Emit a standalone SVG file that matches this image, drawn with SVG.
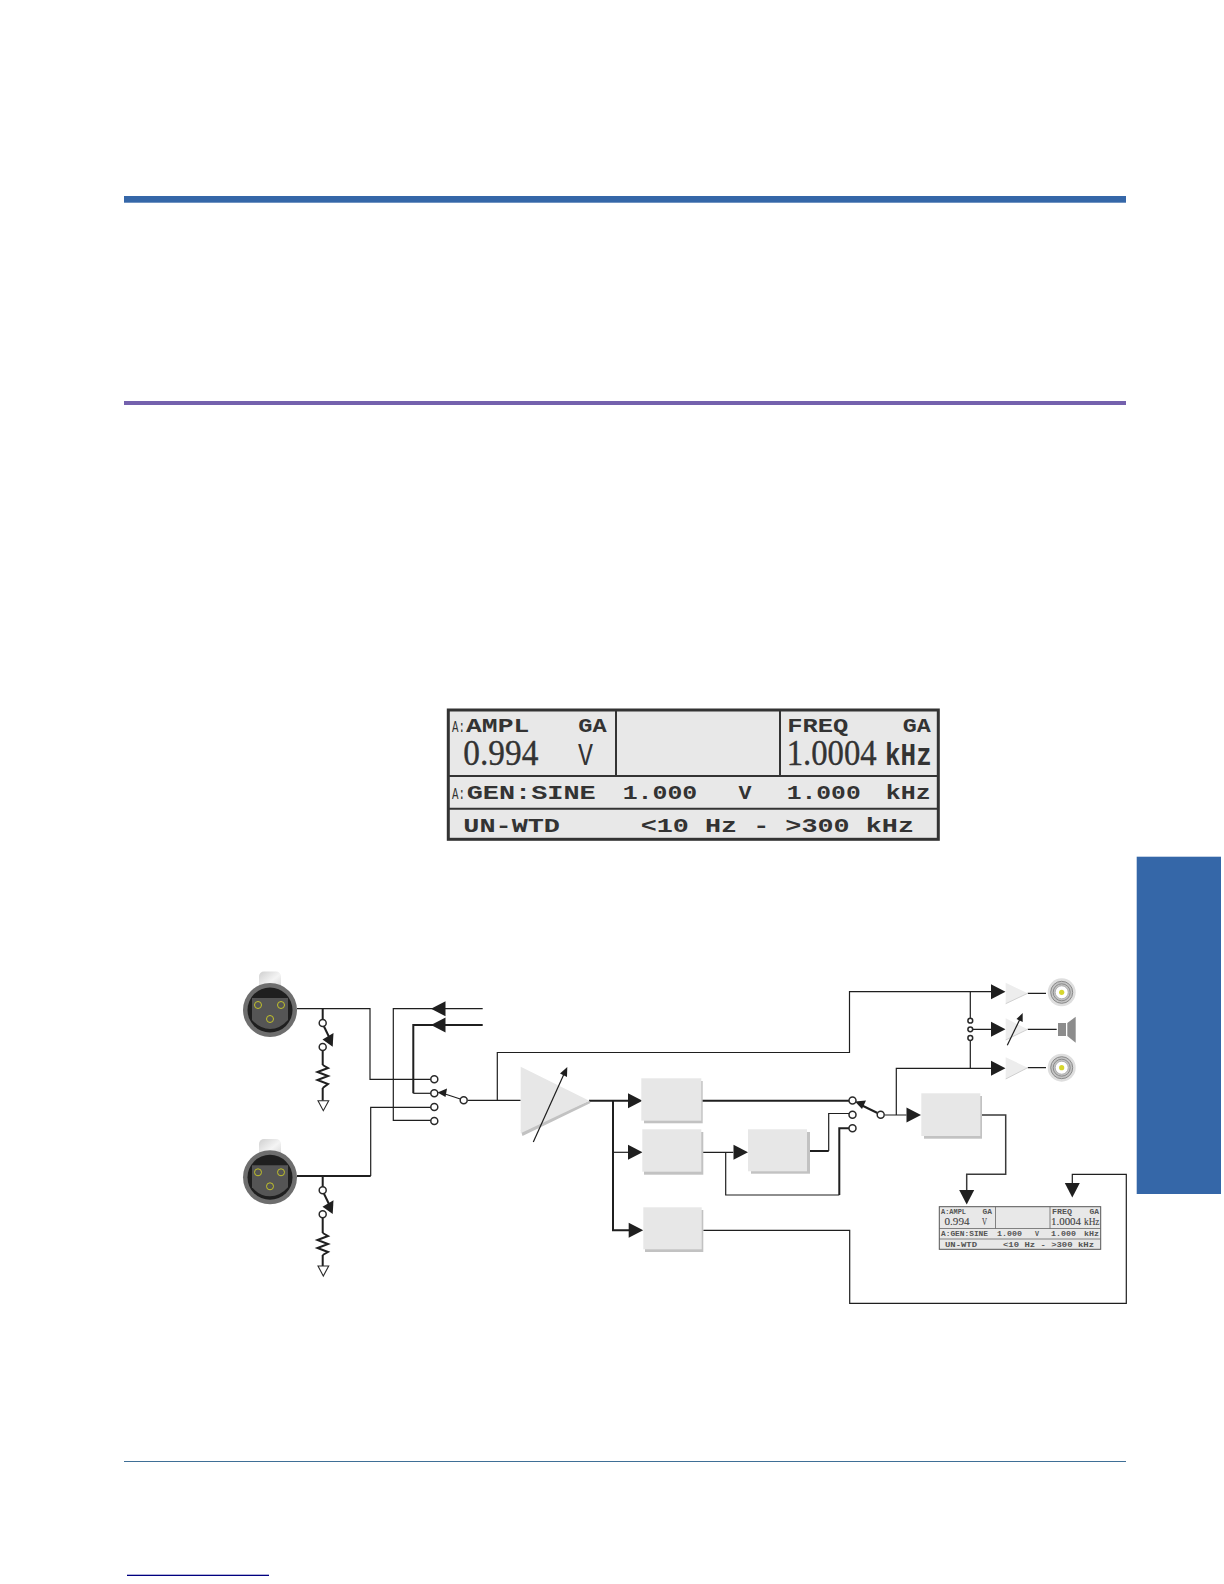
<svg xmlns="http://www.w3.org/2000/svg" width="1224" height="1584" viewBox="0 0 1224 1584">
<style>
.w{fill:none;stroke:#1f1f1f;stroke-width:1.2}
.t{fill:none;stroke:#1f1f1f;stroke-width:2}
.a{fill:#1f1f1f;stroke:none}
.c{fill:#fff;stroke:#2a2a2a;stroke-width:1.5}
.box{fill:#e7e7e7}
.sh{fill:#c2c2c2}
.lcd{font-family:"Liberation Mono",monospace;font-weight:700;fill:#333}
.thin{font-weight:400}
.big{font-family:"Liberation Serif",serif;fill:#333;stroke:#333;stroke-width:.35}
.mini .lcd{fill:#555}
.mini .big{stroke-width:.1;fill:#444}
.div{fill:none;stroke:#333;stroke-width:2}
</style>
<defs>
<linearGradient id="tab" x1="0" y1="0" x2="1" y2="1"><stop offset="0" stop-color="#cfcfcf"/><stop offset=".55" stop-color="#f4f4f4"/><stop offset="1" stop-color="#d4d4d4"/></linearGradient>
<g id="xlr">
<circle r="27" fill="#6e6e6e"/>
<circle r="22.5" fill="#1f1f1f"/>
<path d="M-18,-12H18V10Q10,19 0,19Q-10,19 -18,10Z" fill="#555"/>
<g fill="none" stroke="#c2c22a" stroke-width="1"><circle cx="-12" cy="-5" r="3.5"/><circle cx="11" cy="-5" r="3.5"/><circle cx="0" cy="9" r="3.5"/></g>
</g>
<g id="bnc">
<circle r="14" fill="#dedede"/>
<circle r="11" fill="#c4c4c4" stroke="#8a8a8a" stroke-width="1"/>
<circle r="8.5" fill="none" stroke="#8a8a8a" stroke-width="1"/>
<circle r="6.5" fill="#fff" stroke="#a5a5a5" stroke-width="0.8"/>
<circle r="2.6" fill="#d6d62e"/>
</g>
<path id="ar" d="M0,-7.5L14.5,0L0,7.5Z" class="a"/>
</defs>

<rect id="rule-top" x="124" y="196" width="1002" height="6.7" fill="#3567a8"/>
<rect id="rule-mid" x="124" y="401" width="1002" height="4" fill="#7461ad"/>
<rect id="rule-bottom" x="124" y="1461" width="1002" height="1" fill="#3f6f96"/>
<rect id="side-tab" x="1136.7" y="856.7" width="84.3" height="337.3" fill="#3567a8"/>
<rect id="link-underline" x="127" y="1574.7" width="142" height="1.3" fill="#000080"/>

<g id="lcd-main">
<rect x="448.3" y="710" width="490" height="129.3" fill="#e8e8e8" stroke="#333" stroke-width="3"/>
<path class="div" d="M448,776H938M448,808.7H938M616,710V776M780,710V776"/>
<text class="lcd thin" x="452" y="731.7" font-size="16" textLength="13" lengthAdjust="spacingAndGlyphs">A:</text>
<text class="lcd" x="466" y="731.7" font-size="20" textLength="63.3" lengthAdjust="spacingAndGlyphs">AMPL</text>
<text class="lcd" x="578.3" y="731.7" font-size="20" textLength="28.4" lengthAdjust="spacingAndGlyphs">GA</text>
<text class="big" x="463.3" y="765" font-size="35" textLength="75" lengthAdjust="spacingAndGlyphs">0.994</text>
<text class="lcd thin" x="578" y="765" font-size="32" textLength="15" lengthAdjust="spacingAndGlyphs">V</text>
<text class="lcd" x="787.3" y="731.7" font-size="20" textLength="61" lengthAdjust="spacingAndGlyphs">FREQ</text>
<text class="lcd" x="902.7" y="731.7" font-size="20" textLength="28" lengthAdjust="spacingAndGlyphs">GA</text>
<text class="big" x="786.7" y="765" font-size="35" textLength="90" lengthAdjust="spacingAndGlyphs">1.0004</text>
<text class="lcd" x="885" y="765" font-size="32" textLength="46.7" lengthAdjust="spacingAndGlyphs">kHz</text>
<text class="lcd thin" x="452" y="799.3" font-size="16" textLength="13" lengthAdjust="spacingAndGlyphs">A:</text>
<text class="lcd" x="466.7" y="799.3" font-size="20" textLength="129" lengthAdjust="spacingAndGlyphs">GEN:SINE</text>
<text class="lcd" x="622.7" y="799.3" font-size="20" textLength="74.6" lengthAdjust="spacingAndGlyphs">1.000</text>
<text class="lcd" x="738.5" y="799.3" font-size="20" textLength="13" lengthAdjust="spacingAndGlyphs">V</text>
<text class="lcd" x="786.7" y="799.3" font-size="20" textLength="74" lengthAdjust="spacingAndGlyphs">1.000</text>
<text class="lcd" x="885.7" y="799.3" font-size="20" textLength="45" lengthAdjust="spacingAndGlyphs">kHz</text>
<text class="lcd" x="463.3" y="831.7" font-size="20" textLength="96.7" lengthAdjust="spacingAndGlyphs">UN-WTD</text>
<text class="lcd" x="640.7" y="831.7" font-size="20" textLength="273.3" lengthAdjust="spacingAndGlyphs">&lt;10 Hz - &gt;300 kHz</text>
</g>

<g id="connectors">
<path class="w" d="M297,1008.7H370V1079.3H431"/>
<path class="t" d="M297,1176H370.7"/>
<path class="w" d="M370.7,1176V1107.3H431"/>
<path class="t" d="M322.7,1008.7V1020M322.7,1050V1065M322.7,1088V1100.7"/>
<path class="t" d="M322.7,1176V1187.5M322.7,1217.5V1233M322.7,1255V1266"/>
<path class="w" d="M482.7,1008.7H393.3V1120.3H431"/>
<path class="t" d="M482.7,1025H413.3V1093.3"/>
<path class="w" d="M413.3,1093.3H431"/>
<use href="#ar" transform="translate(445.5,1008.7) rotate(180)"/>
<use href="#ar" transform="translate(445.5,1025) rotate(180)"/>
<path class="w" d="M468,1100.3H520.7M497.3,1100.3V1052.5H849.5V991.7H991"/>
<path class="w" d="M460.3,1099L442,1093"/>
<path class="a" d="M437.5,1092.5L447,1088.5L445.5,1097Z"/>
<path class="t" d="M589,1100.7H628M613,1100.7V1230.3H629"/>
<path class="w" d="M613,1152.3H628"/>
<use href="#ar" transform="translate(628,1100.7)"/>
<use href="#ar" transform="translate(628,1152.3)"/>
<use href="#ar" transform="translate(628.7,1230.3)"/>
<path class="t" d="M702,1100.7H849"/>
<path class="w" d="M701.3,1152.3H733.3M725.7,1152.3V1195H839.3"/>
<use href="#ar" transform="translate(733.5,1152.3)"/>
<path class="t" d="M839.3,1195V1128.3H849"/>
<path class="t" d="M810,1151H828.7"/>
<path class="w" d="M828.7,1151V1113.5H849"/>
<path class="t" d="M877.5,1113L859,1104"/>
<path class="a" d="M855,1101.5L866,1100.5L862,1109Z"/>
<path class="w" d="M885,1115H906.5M896.3,1115V1068.3H991"/>
<use href="#ar" transform="translate(906.5,1115)"/>
<use href="#ar" transform="translate(991,991.7)"/>
<use href="#ar" transform="translate(991,1029.3)"/>
<use href="#ar" transform="translate(991,1068.3)"/>
<path class="w" d="M970.3,991.7V1018M970.3,1040.5V1068.3M973,1029.3H991"/>
<path class="w" d="M1027.7,993.3H1046M1027.7,1029.3H1056.7M1027.7,1067.7H1046"/>
<path d="M982,1115H1005.7V1174.3H966.7V1190" fill="none" stroke="#3a3a3a" stroke-width="1.5"/>
<use href="#ar" transform="translate(966.7,1190) rotate(90)"/>
<path class="w" d="M703.3,1230.3H849.7V1303.3H1126.3V1174.3H1072.3V1183"/>
<use href="#ar" transform="translate(1072.3,1183) rotate(90)"/>
<g>
<circle class="c" cx="434.3" cy="1079.3" r="3.5"/><circle class="c" cx="434.3" cy="1093.3" r="3.5"/><circle class="c" cx="434.3" cy="1107" r="3.5"/><circle class="c" cx="434.3" cy="1121" r="3.5"/><circle class="c" cx="463.7" cy="1100.3" r="3.5"/>
<circle class="c" cx="852.5" cy="1100.5" r="3.5"/><circle class="c" cx="852.5" cy="1114.8" r="3.5"/><circle class="c" cx="852.5" cy="1128.3" r="3.5"/><circle class="c" cx="880.7" cy="1114.7" r="3.5"/>
<circle class="c" cx="970.3" cy="1020.7" r="2.4" stroke-width="1.1"/><circle class="c" cx="970.3" cy="1029.3" r="2.4" stroke-width="1.1"/><circle class="c" cx="970.3" cy="1038" r="2.4" stroke-width="1.1"/>
</g>
</g>

<g id="xlr-1">
<rect x="259" y="971.5" width="22" height="18" rx="5" fill="url(#tab)"/>
<use href="#xlr" transform="translate(270,1010)"/>
</g>
<g id="xlr-2">
<rect x="259" y="1139" width="22" height="18" rx="5" fill="url(#tab)"/>
<use href="#xlr" transform="translate(270,1177.3)"/>
</g>

<g id="load-1">
<circle class="c" cx="322.7" cy="1023" r="3.5"/><circle class="c" cx="322.7" cy="1047" r="3.5"/>
<path class="t" d="M324,1026.5L331,1041"/>
<path class="a" d="M322.5,1039.5L333.5,1033L332.7,1046.7Z"/>
<path class="t" stroke-linejoin="miter" d="M322.7,1065L328,1068L317.5,1072L328,1076L317.5,1080L328,1084L322.7,1088"/>
<path d="M318,1100.7H328.7L323.3,1110.7Z" fill="#fff" stroke="#2a2a2a" stroke-width="1.1"/>
</g>
<g id="load-2">
<circle class="c" cx="322.7" cy="1190.3" r="3.5"/><circle class="c" cx="322.7" cy="1214.3" r="3.5"/>
<path class="t" d="M324,1193.8L331,1208.3"/>
<path class="a" d="M322.5,1206.8L333.5,1200.3L332.7,1214Z"/>
<path class="t" d="M322.7,1233L328,1236L317.5,1240L328,1244L317.5,1248L328,1252L322.7,1255"/>
<path d="M318,1266H328.7L323.3,1276Z" fill="#fff" stroke="#2a2a2a" stroke-width="1.1"/>
</g>

<g id="amp-main">
<path class="sh" d="M520.7,1130L589.3,1100.7L590.5,1103L522.5,1136Z"/>
<path class="box" d="M520.7,1066.7L589.3,1100.7L520.7,1133.3Z"/>
<path class="w" d="M533.3,1142L564,1074"/>
<path class="a" d="M567.3,1067L567,1077L560,1073.5Z"/>
</g>

<g id="block-1"><rect class="sh" x="644" y="1081" width="58.7" height="42.3"/><rect class="box" x="641.3" y="1078.3" width="60" height="42.4"/></g>
<g id="block-2"><rect class="sh" x="644" y="1132" width="59.3" height="42.7"/><rect class="box" x="642.3" y="1129.3" width="59" height="42.4"/></g>
<g id="block-3"><rect class="sh" x="751" y="1132" width="59" height="41.7"/><rect class="box" x="748" y="1129.3" width="59" height="42"/></g>
<g id="block-4"><rect class="sh" x="645" y="1210" width="58.3" height="42"/><rect class="box" x="643.3" y="1207.3" width="58.4" height="42"/></g>
<g id="block-5"><rect class="sh" x="924" y="1096" width="58" height="42.7"/><rect class="box" x="921.3" y="1093.3" width="59" height="42.7"/></g>

<g id="amp-out-1"><path d="M1005.7,982.7L1027.7,993.3L1005.7,1003.7Z" fill="#ededed"/><path d="M1005.7,1003.7L1027.7,993.3" stroke="#d0d0d0" fill="none"/></g>
<g id="amp-out-2"><path d="M1005.7,1018.3L1027.7,1029.3L1005.7,1040Z" fill="#ededed"/><path d="M1005.7,1040L1027.7,1029.3" stroke="#d0d0d0" fill="none"/>
<path class="w" d="M1007.3,1045.3L1020,1019"/><path class="a" d="M1022.7,1013L1022.7,1022L1016.5,1019Z"/></g>
<g id="amp-out-3"><path d="M1005.7,1057.3L1027.7,1067.7L1005.7,1079Z" fill="#ededed"/><path d="M1005.7,1079L1027.7,1067.7" stroke="#d0d0d0" fill="none"/></g>
<g id="bnc-1"><use href="#bnc" transform="translate(1061.7,992.3)"/></g>
<g id="bnc-2"><use href="#bnc" transform="translate(1061.7,1067.7)"/></g>
<g id="speaker"><rect x="1058" y="1023" width="8" height="13" fill="#8c8c8c"/><path d="M1067.3,1023L1075.7,1016.7V1042.7L1067.3,1036Z" fill="#8c8c8c"/></g>

<g id="lcd-mini" class="mini">
<rect x="939.3" y="1206.7" width="161.4" height="42.6" fill="#e8e8e8" stroke="#555" stroke-width="1"/>
<path d="M939.3,1228.5H1100.7M939.3,1239H1100.7M995.5,1206.7V1228.5M1050,1206.7V1228.5" fill="none" stroke="#666" stroke-width="0.8"/>
<g font-size="6.6">
<text class="lcd" x="941" y="1213.8" textLength="25" lengthAdjust="spacingAndGlyphs">A:AMPL</text>
<text class="lcd" x="982.5" y="1213.8" textLength="9.5" lengthAdjust="spacingAndGlyphs">GA</text>
<text class="lcd" x="1052" y="1213.8" textLength="20" lengthAdjust="spacingAndGlyphs">FREQ</text>
<text class="lcd" x="1089.5" y="1213.8" textLength="9.5" lengthAdjust="spacingAndGlyphs">GA</text>
<text class="lcd" x="941" y="1235.8" textLength="47" lengthAdjust="spacingAndGlyphs">A:GEN:SINE</text>
<text class="lcd" x="997" y="1235.8" textLength="25" lengthAdjust="spacingAndGlyphs">1.000</text>
<text class="lcd" x="1035" y="1235.8" textLength="4" lengthAdjust="spacingAndGlyphs">V</text>
<text class="lcd" x="1051" y="1235.8" textLength="25" lengthAdjust="spacingAndGlyphs">1.000</text>
<text class="lcd" x="1084" y="1235.8" textLength="15" lengthAdjust="spacingAndGlyphs">kHz</text>
<text class="lcd" x="945" y="1246.5" textLength="32" lengthAdjust="spacingAndGlyphs">UN-WTD</text>
<text class="lcd" x="1003" y="1246.5" textLength="91" lengthAdjust="spacingAndGlyphs">&lt;10 Hz - &gt;300 kHz</text>
</g>
<text class="big" x="944.5" y="1224.7" font-size="11" textLength="25" lengthAdjust="spacingAndGlyphs">0.994</text>
<text class="big" x="982" y="1224.7" font-size="10" textLength="5" lengthAdjust="spacingAndGlyphs">V</text>
<text class="big" x="1051" y="1224.7" font-size="11" textLength="30" lengthAdjust="spacingAndGlyphs">1.0004</text>
<text class="big" x="1084" y="1224.7" font-size="10" textLength="15.5" lengthAdjust="spacingAndGlyphs">kHz</text>
</g>
</svg>
